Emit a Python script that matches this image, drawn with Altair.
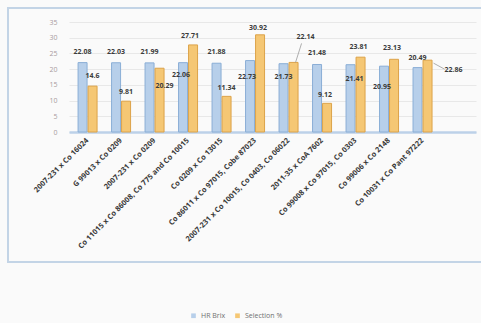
import altair as alt
import pandas as pd

# Crosses and their two measured traits
categories = [
    "2007-231 x Co 16024",
    "G 99013 x Co 0209",
    "2007-231 x Co 0209",
    "Co 11015 x Co 86008, Co 775 and Co 10015",
    "Co 0209 x Co 13015",
    "Co 86011 x Co 97015, Cobe 87023",
    "2007-231 x Co 10015, Co 0403, Co 06022",
    "2011-35 x CoA 7602",
    "Co 99008 x Co 97015, Co 0303",
    "Co 99006 x Co 2148",
    "Co 10031 x Co Pant 97222",
]
hr_brix = [22.08, 22.03, 21.99, 22.06, 21.88, 22.73, 21.73, 21.48, 21.41, 20.95, 20.49]
selection_pct = [14.6, 9.81, 20.29, 27.71, 11.34, 30.92, 22.14, 9.12, 23.81, 23.13, 22.86]
series_names = ["HR Brix", "Selection %"]
series_colors = ["#b7cfea", "#f5c774"]
series_strokes = ["#8aaed6", "#dca34a"]
y_ticks = [0, 5, 10, 15, 20, 25, 30, 35]
Y_MAX = 35

# Pixel nudges for the value labels so they do not collide
brix_label_dx = [0, 0, 0, -2, 0, -3, 0, 0, 4, -2, 0]
brix_label_dy = [-11, -11, -11, 12, -11, 16, 13, -11, 14, 21, -10]
sel_label_dx = [0, 0, 5, -3, 0, -2, 12, -2, -2, -2, 26]
sel_label_dy = [-10, -9, 18, -9, -8, -7, -25, -8, -10, -11, 10]
bar_shift = [-5, 5]

# Leader lines for the two Selection % labels that were moved away from their bars
leader_index = [6, 10]
leader_from = [(2, 0), (6, 3)]
leader_to = [(8, -19), (17, 9)]

W, H = 407, 110
FONT = "Open Sans"
PAD_INNER, PAD_OUTER, ALIGN = 0.4, 0.775, 0.164
step = W / (len(categories) - PAD_INNER + 2 * PAD_OUTER)
half_band = step * (1 - PAD_INNER) / 2
px_to_units = Y_MAX / H

rows = []
for i, cat in enumerate(categories):
    rows.append({"cat": cat, "series": series_names[0], "value": hr_brix[i],
                 "dx": half_band + bar_shift[0] + brix_label_dx[i], "dy": brix_label_dy[i]})
    rows.append({"cat": cat, "series": series_names[1], "value": selection_pct[i],
                 "dx": half_band + bar_shift[1] + sel_label_dx[i], "dy": sel_label_dy[i]})
df = pd.DataFrame(rows)

leader_rows = []
for n, i in enumerate(leader_index):
    for (ddx, ddy) in (leader_from[n], leader_to[n]):
        leader_rows.append({"lid": n, "cat": categories[i],
                            "dx": half_band + bar_shift[1] + ddx,
                            "value": selection_pct[i] - ddy * px_to_units})
leaders_df = pd.DataFrame(leader_rows)

x_axis = alt.Axis(labelAngle=-45, labelAlign="right", labelBaseline="middle",
                  labelFontSize=7.5, labelFontWeight="bold", labelColor="#3a3a3a",
                  labelFont=FONT, labelPadding=7, labelLimit=0, ticks=False,
                  domainColor="#bcd1e8", domainWidth=2.5, grid=False)
y_axis = alt.Axis(values=y_ticks, labelFontSize=7, labelColor="#a89aa0",
                  labelFont=FONT, labelPadding=12, labelOverlap=False,
                  domain=False, ticks=False, gridColor="#e8e8e8", gridWidth=1)
x_scale = alt.Scale(paddingInner=PAD_INNER, paddingOuter=PAD_OUTER, align=ALIGN)
y_scale = alt.Scale(domain=[0, Y_MAX], nice=False)

x_enc = alt.X("cat:N", sort=categories, title=None, scale=x_scale, axis=x_axis)
y_enc = alt.Y("value:Q", title=None, scale=y_scale, axis=y_axis)

color_enc = alt.Color(
    "series:N", title=None,
    scale=alt.Scale(domain=series_names, range=series_colors),
    legend=alt.Legend(orient="none", legendX=121, legendY=290, direction="horizontal",
                      symbolType="square", symbolSize=22, symbolStrokeWidth=0,
                      labelFontSize=7, labelColor="#707070", labelFont=FONT,
                      columnPadding=8, symbolOffset=0),
)

frame = alt.Chart(pd.DataFrame({"k": [0]})).mark_rect(
    fillOpacity=0, stroke="#c3d4e6", strokeWidth=2
).encode(x=alt.value(-61), x2=alt.value(420), y=alt.value(-14), y2=alt.value(240))

base = alt.Chart(df)
bars = []
for k, name in enumerate(series_names):
    bars.append(
        base.transform_filter(alt.datum.series == name)
        .mark_bar(width=9, xOffset=bar_shift[k], stroke=series_strokes[k], strokeWidth=1)
        .encode(x=x_enc, y=y_enc, color=color_enc)
    )

# Labels sit at the bar value, moved by the pixel nudge converted to axis units
labels = base.transform_calculate(
    text_value="datum.value",
    value=f"datum.value - datum.dy * {px_to_units}",
).mark_text(
    fontSize=7, fontWeight="bold", color="#3c3c3c", font=FONT, baseline="middle"
).encode(
    x=x_enc,
    y=y_enc,
    xOffset=alt.XOffset("dx:Q", scale=None),
    text=alt.Text("text_value:Q"),
)

leaders = alt.Chart(leaders_df).mark_line(color="#9a9a9a", strokeWidth=0.8).encode(
    x=x_enc,
    y=y_enc,
    xOffset=alt.XOffset("dx:Q", scale=None),
    detail="lid:N",
)

chart = alt.layer(frame, *bars, leaders, labels).properties(
    width=W, height=H,
    background="#fafafa",
    padding={"left": 69, "top": 22, "right": 5, "bottom": 191},
    autosize=alt.AutoSizeParams(type="none"),
).configure_view(stroke=None)

chart.save("out.html", embed_options={"renderer": "svg", "actions": False})
